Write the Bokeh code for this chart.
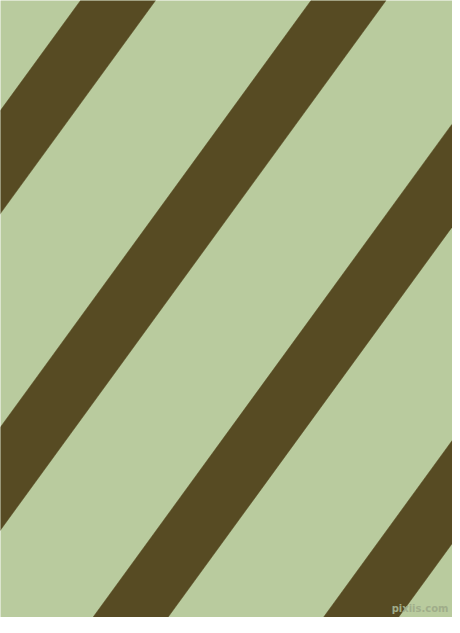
from bokeh.plotting import figure
from bokeh.embed import file_html
from bokeh.resources import INLINE
from bokeh.models import Range1d
from bokeh.core.properties import value

# Image size of the reference pattern
img_w = 460
img_h = 633

# Stripe data: x position of each stripe's left edge at the top (y=0)
stripe_left_top = [80, 310.5, 541.5, 772]
stripe_width = 75          # horizontal width of each stripe
stripe_slant = 0.728       # horizontal shift per unit of y (dx/dy)

bg_color = "#B9CB9E"
stripe_color = "#574B23"

watermark = ["pixiis.com"]

xs, ys = [], []
for x0 in stripe_left_top:
    shift = stripe_slant * img_h
    xs.append([x0, x0 + stripe_width, x0 + stripe_width - shift, x0 - shift])
    ys.append([0, 0, img_h, img_h])

fig_w = 452
fig_h = 617
p = figure(width=fig_w, height=fig_h,
           x_range=Range1d(0, fig_w),
           y_range=Range1d(fig_h, 0),
           output_backend="svg", toolbar_location=None,
           min_border=0, border_fill_color=bg_color,
           background_fill_color=bg_color)
p.axis.visible = False
p.grid.visible = False
p.outline_line_color = None

p.patches(xs, ys, fill_color=stripe_color, line_color=stripe_color, line_width=0.5)

p.text(x=[fig_w - 4], y=[fig_h - 4], text=watermark, text_align="right",
       text_baseline="bottom", text_font=value("DejaVu Sans"),
       text_font_size="10px", text_color="#a0ad8a", text_font_style="bold")

open("out.html", "w").write(file_html(p, INLINE))
